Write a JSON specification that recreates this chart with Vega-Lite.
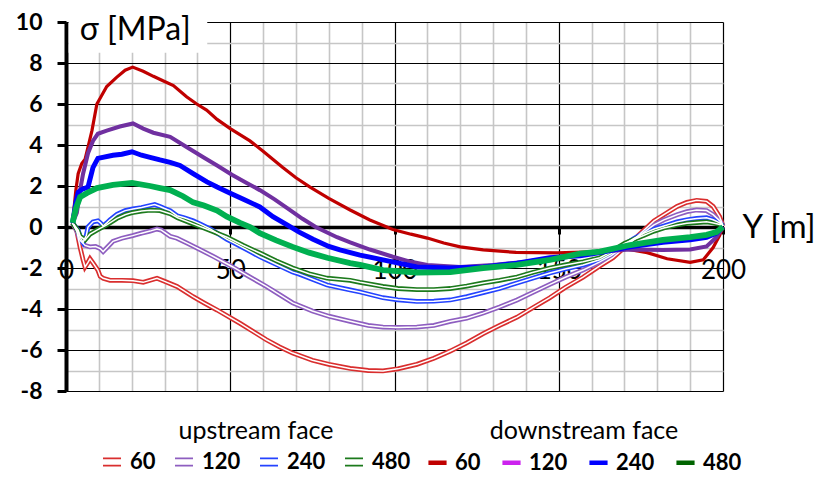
{
  "$schema": "https://vega.github.io/schema/vega-lite/v6.json",
  "width": 657,
  "height": 369,
  "autosize": "none",
  "padding": {"left": 66, "top": 22, "right": 95, "bottom": 86},
  "background": "white",
  "config": {"view": {"stroke": null}, "font": "Lato"},
  "datasets": {
    "stress": [
    {"f":"up","t":"60","x":2,"s":0.2},{"f":"up","t":"60","x":3.3,"s":-0.2},{"f":"up","t":"60","x":4.3,"s":-1.0},{"f":"up","t":"60","x":5.2,"s":-1.6},{"f":"up","t":"60","x":5.8,"s":-1.95},{"f":"up","t":"60","x":6.6,"s":-1.75},{"f":"up","t":"60","x":7.3,"s":-1.55},{"f":"up","t":"60","x":8.2,"s":-1.75},{"f":"up","t":"60","x":9.7,"s":-2.1},{"f":"up","t":"60","x":10.4,"s":-2.4},{"f":"up","t":"60","x":11.3,"s":-2.5},{"f":"up","t":"60","x":13.4,"s":-2.6},{"f":"up","t":"60","x":17,"s":-2.6},{"f":"up","t":"60","x":20.4,"s":-2.62},{"f":"up","t":"60","x":23.5,"s":-2.7},{"f":"up","t":"60","x":27.7,"s":-2.5},{"f":"up","t":"60","x":30,"s":-2.65},{"f":"up","t":"60","x":33.8,"s":-2.9},{"f":"up","t":"60","x":38.7,"s":-3.4},{"f":"up","t":"60","x":42,"s":-3.7},{"f":"up","t":"60","x":46,"s":-4.05},{"f":"up","t":"60","x":53,"s":-4.7},{"f":"up","t":"60","x":57,"s":-5.1},{"f":"up","t":"60","x":61,"s":-5.5},{"f":"up","t":"60","x":65,"s":-5.85},{"f":"up","t":"60","x":69,"s":-6.15},{"f":"up","t":"60","x":75,"s":-6.5},{"f":"up","t":"60","x":80,"s":-6.7},{"f":"up","t":"60","x":86.5,"s":-6.9},{"f":"up","t":"60","x":92,"s":-7.0},{"f":"up","t":"60","x":96.5,"s":-7.02},{"f":"up","t":"60","x":101,"s":-6.92},{"f":"up","t":"60","x":106.8,"s":-6.7},{"f":"up","t":"60","x":112,"s":-6.4},{"f":"up","t":"60","x":117,"s":-6.05},{"f":"up","t":"60","x":122,"s":-5.65},{"f":"up","t":"60","x":127,"s":-5.2},{"f":"up","t":"60","x":132,"s":-4.8},{"f":"up","t":"60","x":137.3,"s":-4.4},{"f":"up","t":"60","x":142,"s":-3.95},{"f":"up","t":"60","x":147.3,"s":-3.45},{"f":"up","t":"60","x":152,"s":-2.95},{"f":"up","t":"60","x":157.4,"s":-2.45},{"f":"up","t":"60","x":162.5,"s":-1.9},{"f":"up","t":"60","x":166.5,"s":-1.5},{"f":"up","t":"60","x":170,"s":-1.0},{"f":"up","t":"60","x":173,"s":-0.6},{"f":"up","t":"60","x":176,"s":-0.15},{"f":"up","t":"60","x":179,"s":0.3},{"f":"up","t":"60","x":182,"s":0.6},{"f":"up","t":"60","x":186,"s":1.0},{"f":"up","t":"60","x":189,"s":1.2},{"f":"up","t":"60","x":192,"s":1.3},{"f":"up","t":"60","x":195,"s":1.25},{"f":"up","t":"60","x":197,"s":1.0},{"f":"up","t":"60","x":199,"s":0.5},{"f":"up","t":"60","x":200,"s":0.05},

    {"f":"up","t":"120","x":2,"s":0.2},{"f":"up","t":"120","x":3.3,"s":-0.2},{"f":"up","t":"120","x":4.3,"s":-0.65},{"f":"up","t":"120","x":5.8,"s":-0.9},{"f":"up","t":"120","x":7.3,"s":-0.97},{"f":"up","t":"120","x":9,"s":-0.95},{"f":"up","t":"120","x":10.4,"s":-1.05},{"f":"up","t":"120","x":11.3,"s":-1.2},{"f":"up","t":"120","x":12.5,"s":-1.0},{"f":"up","t":"120","x":14.3,"s":-0.7},{"f":"up","t":"120","x":17,"s":-0.55},{"f":"up","t":"120","x":20.3,"s":-0.42},{"f":"up","t":"120","x":23,"s":-0.3},{"f":"up","t":"120","x":25.6,"s":-0.2},{"f":"up","t":"120","x":27.7,"s":-0.1},{"f":"up","t":"120","x":29,"s":-0.15},{"f":"up","t":"120","x":31.7,"s":-0.45},{"f":"up","t":"120","x":33.8,"s":-0.55},{"f":"up","t":"120","x":37,"s":-0.8},{"f":"up","t":"120","x":40.8,"s":-1.1},{"f":"up","t":"120","x":45,"s":-1.45},{"f":"up","t":"120","x":50.8,"s":-1.95},{"f":"up","t":"120","x":55,"s":-2.35},{"f":"up","t":"120","x":61,"s":-2.9},{"f":"up","t":"120","x":65,"s":-3.3},{"f":"up","t":"120","x":69,"s":-3.7},{"f":"up","t":"120","x":75,"s":-4.1},{"f":"up","t":"120","x":80,"s":-4.35},{"f":"up","t":"120","x":86.5,"s":-4.6},{"f":"up","t":"120","x":92,"s":-4.8},{"f":"up","t":"120","x":96.5,"s":-4.88},{"f":"up","t":"120","x":101,"s":-4.9},{"f":"up","t":"120","x":106.8,"s":-4.88},{"f":"up","t":"120","x":112,"s":-4.8},{"f":"up","t":"120","x":117,"s":-4.6},{"f":"up","t":"120","x":122,"s":-4.45},{"f":"up","t":"120","x":127,"s":-4.2},{"f":"up","t":"120","x":132,"s":-3.9},{"f":"up","t":"120","x":137.3,"s":-3.56},{"f":"up","t":"120","x":142,"s":-3.2},{"f":"up","t":"120","x":147.3,"s":-2.8},{"f":"up","t":"120","x":152,"s":-2.45},{"f":"up","t":"120","x":157.4,"s":-2.1},{"f":"up","t":"120","x":162.5,"s":-1.7},{"f":"up","t":"120","x":166,"s":-1.4},{"f":"up","t":"120","x":170,"s":-0.95},{"f":"up","t":"120","x":173,"s":-0.6},{"f":"up","t":"120","x":176,"s":-0.25},{"f":"up","t":"120","x":179,"s":0.1},{"f":"up","t":"120","x":182,"s":0.35},{"f":"up","t":"120","x":186,"s":0.6},{"f":"up","t":"120","x":189,"s":0.75},{"f":"up","t":"120","x":192,"s":0.83},{"f":"up","t":"120","x":195,"s":0.8},{"f":"up","t":"120","x":197,"s":0.6},{"f":"up","t":"120","x":199,"s":0.3},{"f":"up","t":"120","x":200,"s":0.05},

    {"f":"up","t":"240","x":2,"s":0.2},{"f":"up","t":"240","x":3.7,"s":-0.15},{"f":"up","t":"240","x":4.5,"s":-0.55},{"f":"up","t":"240","x":5.2,"s":-0.75},{"f":"up","t":"240","x":6.2,"s":-0.4},{"f":"up","t":"240","x":6.7,"s":0.0},{"f":"up","t":"240","x":8.2,"s":0.25},{"f":"up","t":"240","x":9.7,"s":0.3},{"f":"up","t":"240","x":10.5,"s":0.2},{"f":"up","t":"240","x":11.3,"s":0.05},{"f":"up","t":"240","x":12.4,"s":0.2},{"f":"up","t":"240","x":13.4,"s":0.35},{"f":"up","t":"240","x":15.5,"s":0.62},{"f":"up","t":"240","x":18,"s":0.8},{"f":"up","t":"240","x":20.4,"s":0.88},{"f":"up","t":"240","x":23,"s":0.95},{"f":"up","t":"240","x":25.6,"s":1.05},{"f":"up","t":"240","x":27,"s":1.1},{"f":"up","t":"240","x":28.6,"s":1.0},{"f":"up","t":"240","x":30,"s":0.9},{"f":"up","t":"240","x":31.7,"s":0.8},{"f":"up","t":"240","x":33.8,"s":0.55},{"f":"up","t":"240","x":36,"s":0.45},{"f":"up","t":"240","x":38.7,"s":0.3},{"f":"up","t":"240","x":40.8,"s":0.15},{"f":"up","t":"240","x":44,"s":-0.1},{"f":"up","t":"240","x":49,"s":-0.6},{"f":"up","t":"240","x":50.8,"s":-0.75},{"f":"up","t":"240","x":55,"s":-1.1},{"f":"up","t":"240","x":59,"s":-1.45},{"f":"up","t":"240","x":61,"s":-1.6},{"f":"up","t":"240","x":65,"s":-1.9},{"f":"up","t":"240","x":69,"s":-2.2},{"f":"up","t":"240","x":71,"s":-2.3},{"f":"up","t":"240","x":75,"s":-2.55},{"f":"up","t":"240","x":79.5,"s":-2.83},{"f":"up","t":"240","x":86.5,"s":-3.07},{"f":"up","t":"240","x":89.5,"s":-3.17},{"f":"up","t":"240","x":96.5,"s":-3.45},{"f":"up","t":"240","x":101,"s":-3.55},{"f":"up","t":"240","x":106.8,"s":-3.63},{"f":"up","t":"240","x":112,"s":-3.62},{"f":"up","t":"240","x":117,"s":-3.56},{"f":"up","t":"240","x":122,"s":-3.4},{"f":"up","t":"240","x":127,"s":-3.2},{"f":"up","t":"240","x":132,"s":-3.0},{"f":"up","t":"240","x":137.3,"s":-2.73},{"f":"up","t":"240","x":142,"s":-2.5},{"f":"up","t":"240","x":147.3,"s":-2.24},{"f":"up","t":"240","x":152,"s":-2.05},{"f":"up","t":"240","x":157.4,"s":-1.85},{"f":"up","t":"240","x":162.5,"s":-1.6},{"f":"up","t":"240","x":166,"s":-1.3},{"f":"up","t":"240","x":170,"s":-0.85},{"f":"up","t":"240","x":173,"s":-0.55},{"f":"up","t":"240","x":176,"s":-0.3},{"f":"up","t":"240","x":179,"s":-0.1},{"f":"up","t":"240","x":182,"s":0.05},{"f":"up","t":"240","x":186,"s":0.25},{"f":"up","t":"240","x":189,"s":0.35},{"f":"up","t":"240","x":192,"s":0.42},{"f":"up","t":"240","x":195,"s":0.45},{"f":"up","t":"240","x":197,"s":0.35},{"f":"up","t":"240","x":199,"s":0.2},{"f":"up","t":"240","x":200,"s":0.05},

    {"f":"up","t":"480","x":2,"s":0.2},{"f":"up","t":"480","x":3.5,"s":-0.15},{"f":"up","t":"480","x":4.3,"s":-0.45},{"f":"up","t":"480","x":5.8,"s":-0.63},{"f":"up","t":"480","x":7.3,"s":-0.35},{"f":"up","t":"480","x":9.4,"s":-0.15},{"f":"up","t":"480","x":12.4,"s":0.1},{"f":"up","t":"480","x":15.5,"s":0.42},{"f":"up","t":"480","x":18,"s":0.6},{"f":"up","t":"480","x":20.1,"s":0.7},{"f":"up","t":"480","x":23,"s":0.78},{"f":"up","t":"480","x":25.6,"s":0.82},{"f":"up","t":"480","x":28.6,"s":0.8},{"f":"up","t":"480","x":31.7,"s":0.65},{"f":"up","t":"480","x":34,"s":0.45},{"f":"up","t":"480","x":38.7,"s":0.15},{"f":"up","t":"480","x":42,"s":-0.05},{"f":"up","t":"480","x":46,"s":-0.3},{"f":"up","t":"480","x":49,"s":-0.5},{"f":"up","t":"480","x":54,"s":-0.9},{"f":"up","t":"480","x":59,"s":-1.27},{"f":"up","t":"480","x":64,"s":-1.65},{"f":"up","t":"480","x":69,"s":-2.0},{"f":"up","t":"480","x":74,"s":-2.28},{"f":"up","t":"480","x":79.5,"s":-2.5},{"f":"up","t":"480","x":86.5,"s":-2.6},{"f":"up","t":"480","x":89.5,"s":-2.7},{"f":"up","t":"480","x":96.5,"s":-2.9},{"f":"up","t":"480","x":101,"s":-3.0},{"f":"up","t":"480","x":106.8,"s":-3.05},{"f":"up","t":"480","x":112,"s":-3.05},{"f":"up","t":"480","x":117,"s":-3.0},{"f":"up","t":"480","x":122,"s":-2.88},{"f":"up","t":"480","x":127,"s":-2.73},{"f":"up","t":"480","x":132,"s":-2.6},{"f":"up","t":"480","x":137.3,"s":-2.44},{"f":"up","t":"480","x":142,"s":-2.22},{"f":"up","t":"480","x":147.3,"s":-2.0},{"f":"up","t":"480","x":152,"s":-1.85},{"f":"up","t":"480","x":157.4,"s":-1.7},{"f":"up","t":"480","x":162.5,"s":-1.5},{"f":"up","t":"480","x":166,"s":-1.2},{"f":"up","t":"480","x":170,"s":-0.8},{"f":"up","t":"480","x":173,"s":-0.6},{"f":"up","t":"480","x":176,"s":-0.4},{"f":"up","t":"480","x":179,"s":-0.2},{"f":"up","t":"480","x":182,"s":-0.05},{"f":"up","t":"480","x":186,"s":0.1},{"f":"up","t":"480","x":189,"s":0.18},{"f":"up","t":"480","x":192,"s":0.22},{"f":"up","t":"480","x":195,"s":0.25},{"f":"up","t":"480","x":197,"s":0.2},{"f":"up","t":"480","x":199,"s":0.12},{"f":"up","t":"480","x":200,"s":0.05},

    {"f":"down","t":"60","x":2,"s":0.2},{"f":"down","t":"60","x":3,"s":1.8},{"f":"down","t":"60","x":3.7,"s":2.6},{"f":"down","t":"60","x":4.8,"s":3.1},{"f":"down","t":"60","x":5.8,"s":3.3},{"f":"down","t":"60","x":6.7,"s":3.9},{"f":"down","t":"60","x":7.9,"s":4.7},{"f":"down","t":"60","x":9.4,"s":6.0},{"f":"down","t":"60","x":12.4,"s":6.85},{"f":"down","t":"60","x":15.4,"s":7.3},{"f":"down","t":"60","x":18,"s":7.65},{"f":"down","t":"60","x":20.3,"s":7.8},{"f":"down","t":"60","x":23.5,"s":7.6},{"f":"down","t":"60","x":26.6,"s":7.35},{"f":"down","t":"60","x":30,"s":7.1},{"f":"down","t":"60","x":32.7,"s":6.9},{"f":"down","t":"60","x":36.7,"s":6.35},{"f":"down","t":"60","x":39.8,"s":6.0},{"f":"down","t":"60","x":42.8,"s":5.7},{"f":"down","t":"60","x":46,"s":5.25},{"f":"down","t":"60","x":50,"s":4.8},{"f":"down","t":"60","x":56,"s":4.2},{"f":"down","t":"60","x":60,"s":3.7},{"f":"down","t":"60","x":66,"s":2.9},{"f":"down","t":"60","x":70,"s":2.4},{"f":"down","t":"60","x":74.3,"s":1.95},{"f":"down","t":"60","x":80,"s":1.4},{"f":"down","t":"60","x":86.5,"s":0.83},{"f":"down","t":"60","x":92.5,"s":0.34},{"f":"down","t":"60","x":99.5,"s":-0.12},{"f":"down","t":"60","x":105,"s":-0.35},{"f":"down","t":"60","x":110,"s":-0.54},{"f":"down","t":"60","x":115,"s":-0.78},{"f":"down","t":"60","x":120,"s":-0.97},{"f":"down","t":"60","x":127,"s":-1.12},{"f":"down","t":"60","x":137,"s":-1.24},{"f":"down","t":"60","x":149.5,"s":-1.26},{"f":"down","t":"60","x":162.5,"s":-1.2},{"f":"down","t":"60","x":169.6,"s":-1.05},{"f":"down","t":"60","x":176.9,"s":-1.25},{"f":"down","t":"60","x":183,"s":-1.55},{"f":"down","t":"60","x":190,"s":-1.72},{"f":"down","t":"60","x":194,"s":-1.6},{"f":"down","t":"60","x":197,"s":-1.0},{"f":"down","t":"60","x":199,"s":-0.4},{"f":"down","t":"60","x":200,"s":0.0},

    {"f":"down","t":"120","x":2,"s":0.2},{"f":"down","t":"120","x":3.3,"s":0.7},{"f":"down","t":"120","x":4.3,"s":1.8},{"f":"down","t":"120","x":5.2,"s":2.6},{"f":"down","t":"120","x":6.7,"s":3.6},{"f":"down","t":"120","x":8.2,"s":4.2},{"f":"down","t":"120","x":9.7,"s":4.55},{"f":"down","t":"120","x":12.4,"s":4.7},{"f":"down","t":"120","x":16.4,"s":4.9},{"f":"down","t":"120","x":20.4,"s":5.05},{"f":"down","t":"120","x":23.5,"s":4.8},{"f":"down","t":"120","x":26.6,"s":4.6},{"f":"down","t":"120","x":31.7,"s":4.4},{"f":"down","t":"120","x":36.7,"s":3.9},{"f":"down","t":"120","x":41.8,"s":3.4},{"f":"down","t":"120","x":46,"s":3.0},{"f":"down","t":"120","x":50.5,"s":2.55},{"f":"down","t":"120","x":55,"s":2.15},{"f":"down","t":"120","x":59,"s":1.8},{"f":"down","t":"120","x":63.5,"s":1.35},{"f":"down","t":"120","x":68,"s":0.85},{"f":"down","t":"120","x":72,"s":0.4},{"f":"down","t":"120","x":76,"s":0.0},{"f":"down","t":"120","x":82.5,"s":-0.5},{"f":"down","t":"120","x":86.5,"s":-0.75},{"f":"down","t":"120","x":92.5,"s":-1.1},{"f":"down","t":"120","x":99.5,"s":-1.45},{"f":"down","t":"120","x":105,"s":-1.7},{"f":"down","t":"120","x":110,"s":-1.85},{"f":"down","t":"120","x":120,"s":-1.95},{"f":"down","t":"120","x":130,"s":-1.85},{"f":"down","t":"120","x":140,"s":-1.7},{"f":"down","t":"120","x":150.4,"s":-1.46},{"f":"down","t":"120","x":162.5,"s":-1.2},{"f":"down","t":"120","x":171.7,"s":-1.1},{"f":"down","t":"120","x":181.7,"s":-1.12},{"f":"down","t":"120","x":190,"s":-1.1},{"f":"down","t":"120","x":195,"s":-0.95},{"f":"down","t":"120","x":198,"s":-0.5},{"f":"down","t":"120","x":200,"s":0.0},

    {"f":"down","t":"240","x":2,"s":0.2},{"f":"down","t":"240","x":3,"s":1.2},{"f":"down","t":"240","x":3.7,"s":1.7},{"f":"down","t":"240","x":5,"s":1.85},{"f":"down","t":"240","x":6.7,"s":1.95},{"f":"down","t":"240","x":8.2,"s":2.9},{"f":"down","t":"240","x":9.7,"s":3.35},{"f":"down","t":"240","x":14.3,"s":3.5},{"f":"down","t":"240","x":17,"s":3.55},{"f":"down","t":"240","x":20.1,"s":3.67},{"f":"down","t":"240","x":23,"s":3.5},{"f":"down","t":"240","x":25.6,"s":3.4},{"f":"down","t":"240","x":28.6,"s":3.27},{"f":"down","t":"240","x":31.7,"s":3.15},{"f":"down","t":"240","x":34.7,"s":3.0},{"f":"down","t":"240","x":38.7,"s":2.6},{"f":"down","t":"240","x":42.9,"s":2.2},{"f":"down","t":"240","x":46,"s":1.95},{"f":"down","t":"240","x":50,"s":1.65},{"f":"down","t":"240","x":54,"s":1.35},{"f":"down","t":"240","x":59,"s":0.98},{"f":"down","t":"240","x":63,"s":0.5},{"f":"down","t":"240","x":67.3,"s":0.1},{"f":"down","t":"240","x":71,"s":-0.25},{"f":"down","t":"240","x":75.2,"s":-0.6},{"f":"down","t":"240","x":80,"s":-0.95},{"f":"down","t":"240","x":83.4,"s":-1.12},{"f":"down","t":"240","x":89.5,"s":-1.37},{"f":"down","t":"240","x":96.5,"s":-1.6},{"f":"down","t":"240","x":106.8,"s":-1.95},{"f":"down","t":"240","x":116.9,"s":-2.0},{"f":"down","t":"240","x":127,"s":-1.95},{"f":"down","t":"240","x":137.3,"s":-1.76},{"f":"down","t":"240","x":147.3,"s":-1.5},{"f":"down","t":"240","x":156.5,"s":-1.4},{"f":"down","t":"240","x":162.5,"s":-1.25},{"f":"down","t":"240","x":171.7,"s":-0.97},{"f":"down","t":"240","x":181.7,"s":-0.75},{"f":"down","t":"240","x":190,"s":-0.63},{"f":"down","t":"240","x":195,"s":-0.5},{"f":"down","t":"240","x":198,"s":-0.3},{"f":"down","t":"240","x":200,"s":0.0},

    {"f":"down","t":"480","x":2,"s":0.2},{"f":"down","t":"480","x":3,"s":0.9},{"f":"down","t":"480","x":4.3,"s":1.46},{"f":"down","t":"480","x":6.4,"s":1.66},{"f":"down","t":"480","x":9.4,"s":1.9},{"f":"down","t":"480","x":14.3,"s":2.05},{"f":"down","t":"480","x":20.1,"s":2.15},{"f":"down","t":"480","x":25.6,"s":2.0},{"f":"down","t":"480","x":28.6,"s":1.9},{"f":"down","t":"480","x":31.7,"s":1.8},{"f":"down","t":"480","x":35.6,"s":1.5},{"f":"down","t":"480","x":38.7,"s":1.2},{"f":"down","t":"480","x":42,"s":1.05},{"f":"down","t":"480","x":46,"s":0.8},{"f":"down","t":"480","x":49,"s":0.5},{"f":"down","t":"480","x":53,"s":0.2},{"f":"down","t":"480","x":56,"s":0.0},{"f":"down","t":"480","x":59,"s":-0.3},{"f":"down","t":"480","x":64,"s":-0.65},{"f":"down","t":"480","x":69,"s":-0.97},{"f":"down","t":"480","x":74,"s":-1.25},{"f":"down","t":"480","x":79.5,"s":-1.5},{"f":"down","t":"480","x":86.5,"s":-1.76},{"f":"down","t":"480","x":89.5,"s":-1.85},{"f":"down","t":"480","x":96.5,"s":-2.1},{"f":"down","t":"480","x":106.8,"s":-2.22},{"f":"down","t":"480","x":117,"s":-2.2},{"f":"down","t":"480","x":127,"s":-2.0},{"f":"down","t":"480","x":137.3,"s":-1.85},{"f":"down","t":"480","x":147.3,"s":-1.6},{"f":"down","t":"480","x":156.5,"s":-1.3},{"f":"down","t":"480","x":162.5,"s":-1.2},{"f":"down","t":"480","x":171.7,"s":-0.88},{"f":"down","t":"480","x":181.7,"s":-0.63},{"f":"down","t":"480","x":190,"s":-0.49},{"f":"down","t":"480","x":195,"s":-0.38},{"f":"down","t":"480","x":198,"s":-0.25},{"f":"down","t":"480","x":200,"s":0.0}
    ],
    "caption": [{"label": "σ [MPa]"}]
  },
  "layer": [
    {
      "data": {"name": "stress"},
      "encoding": {
        "x": {
          "field": "x", "type": "quantitative",
          "scale": {"domain": [0, 200], "nice": false},
          "axis": {
            "values": [0,10,20,30,40,50,60,70,80,90,100,110,120,130,140,150,160,170,180,190,200],
            "offset": -164,
            "grid": true,
            "gridColor": {"condition": {"test": "datum.value % 50 === 0", "value": "#000000"}, "value": "#c6c6c6"},
            "gridWidth": {"condition": {"test": "datum.value % 50 === 0", "value": 1.2}, "value": 1.6},
            "domain": true, "domainColor": "#000000", "domainWidth": 3.5,
            "ticks": true, "tickSize": 7, "tickWidth": 3, "tickColor": "#000000",
            "tickOpacity": {"condition": {"test": "datum.value % 50 === 0 && datum.value > 0", "value": 1}, "value": 0},
            "labelExpr": "datum.value % 50 === 0 ? '' + datum.value : ''",
            "labelFont": "Lato", "labelFontSize": 26, "labelColor": "#000000",
            "labelPadding": 23, "labelFlush": false, "labelOverlap": false, "labelBound": false,
            "title": "Y [m]", "titleX": 676, "titleY": 0, "titleAlign": "left", "titleBaseline": "middle",
            "titleAngle": 0, "titleFont": "Lato", "titleFontSize": 33, "titleFontWeight": "normal", "titleColor": "#000000"
          }
        },
        "y": {
          "field": "s", "type": "quantitative",
          "scale": {"domain": [-8, 10], "nice": false},
          "axis": {
            "values": [-8,-7,-6,-5,-4,-3,-2,-1,0,1,2,3,4,5,6,7,8,9,10],
            "grid": true,
            "gridColor": {"condition": {"test": "datum.value % 2 === 0", "value": "#000000"}, "value": "#c6c6c6"},
            "gridWidth": {"condition": {"test": "datum.value % 2 === 0", "value": 1.2}, "value": 1.6},
            "domain": true, "domainColor": "#000000", "domainWidth": 4,
            "ticks": true, "tickSize": 9, "tickWidth": 3, "tickColor": "#000000",
            "tickOpacity": {"condition": {"test": "datum.value % 2 === 0", "value": 1}, "value": 0},
            "labelExpr": "datum.value % 2 === 0 ? '' + datum.value : ''",
            "labelFont": "Lato", "labelFontSize": 23, "labelFontWeight": "bold", "labelColor": "#000000",
            "labelPadding": 15, "labelOverlap": false, "labelFlush": false,
            "title": null
          }
        }
      },
      "layer": [
        {
          "transform": [{"filter": "datum.f === 'up'"}],
          "mark": {"type": "line", "strokeWidth": 4.8},
          "encoding": {
            "stroke": {
              "field": "t", "type": "nominal",
              "scale": {"domain": ["60", "120", "240", "480"], "range": ["#D92E2E", "#8E5EC0", "#2443FF", "#1C7A1C"]},
              "legend": {
                "title": "upstream face", "orient": "none", "legendX": 35, "legendY": 397,
                "direction": "horizontal", "titleAnchor": "middle", "titlePadding": 7, "titleLimit": 400,
                "titleFont": "Lato", "titleFontSize": 25, "titleFontWeight": "normal", "titleColor": "#000000",
                "labelFont": "Lato", "labelFontSize": 22, "labelFontWeight": "bold", "labelColor": "#000000",
                "symbolType": "M-1,-0.4L1,-0.4M-1,0.4L1,0.4", "symbolSize": 324, "symbolStrokeWidth": 1.8,
                "columnPadding": 15, "labelOffset": 7
              }
            }
          }
        },
        {
          "transform": [{"filter": "datum.f === 'up'"}],
          "mark": {"type": "line", "strokeWidth": 1.5, "color": "#ffffff"},
          "encoding": {"detail": {"field": "t", "type": "nominal"}}
        },
        {
          "transform": [{"filter": "datum.f === 'none'"}],
          "mark": {"type": "line"},
          "encoding": {
            "stroke": {
              "field": "t", "type": "nominal",
              "scale": {"domain": ["60", "120", "240", "480"], "range": ["#C00000", "#CC22EE", "#0000FF", "#006400"]},
              "legend": {
                "title": "downstream face", "orient": "none", "legendX": 360, "legendY": 397,
                "direction": "horizontal", "titleAnchor": "middle", "titlePadding": 7, "titleLimit": 400,
                "titleFont": "Lato", "titleFontSize": 25, "titleFontWeight": "normal", "titleColor": "#000000",
                "labelFont": "Lato", "labelFontSize": 22, "labelFontWeight": "bold", "labelColor": "#000000",
                "symbolType": "stroke", "symbolSize": 330, "symbolStrokeWidth": 4.5,
                "columnPadding": 12, "labelOffset": 6
              }
            }
          }
        },
        {
          "transform": [{"filter": "datum.f === 'down'"}],
          "mark": {"type": "line"},
          "encoding": {
            "stroke": {
              "field": "t", "type": "nominal",
              "scale": {"domain": ["60", "120", "240", "480"], "range": ["#C00000", "#7030A0", "#0000FF", "#00B050"]},
              "legend": null
            },
            "strokeWidth": {
              "field": "t", "type": "nominal",
              "scale": {"domain": ["60", "120", "240", "480"], "range": [3.2, 5.8, 3.6, 4.2]},
              "legend": null
            }
          }
        }
      ],
      "resolve": {"scale": {"stroke": "independent", "strokeWidth": "independent"}}
    },
    {
      "data": {"name": "caption"},
      "encoding": {
        "x": {
          "datum": 0.8, "type": "quantitative",
          "scale": {"domain": [0, 200], "nice": false},
          "axis": {
            "values": [0,10,20,30,40,50,60,70,80,90,100,110,120,130,140,150,160,170,180,190,200],
            "offset": -164,
            "grid": true,
            "gridColor": {"condition": {"test": "datum.value % 50 === 0", "value": "#000000"}, "value": "#c6c6c6"},
            "gridWidth": {"condition": {"test": "datum.value % 50 === 0", "value": 1.2}, "value": 1.6},
            "domain": true, "domainColor": "#000000", "domainWidth": 3.5,
            "ticks": true, "tickSize": 7, "tickWidth": 3, "tickColor": "#000000",
            "tickOpacity": {"condition": {"test": "datum.value % 50 === 0 && datum.value > 0", "value": 1}, "value": 0},
            "labelExpr": "datum.value % 50 === 0 ? '' + datum.value : ''",
            "labelFont": "Lato", "labelFontSize": 26, "labelColor": "#000000",
            "labelPadding": 23, "labelFlush": false, "labelOverlap": false, "labelBound": false,
            "title": "Y [m]", "titleX": 676, "titleY": 0, "titleAlign": "left", "titleBaseline": "middle",
            "titleAngle": 0, "titleFont": "Lato", "titleFontSize": 33, "titleFontWeight": "normal", "titleColor": "#000000"
          }
        },
        "y": {
          "datum": 8.5, "type": "quantitative",
          "scale": {"domain": [-8, 10], "nice": false},
          "axis": {
            "values": [-8,-7,-6,-5,-4,-3,-2,-1,0,1,2,3,4,5,6,7,8,9,10],
            "grid": true,
            "gridColor": {"condition": {"test": "datum.value % 2 === 0", "value": "#000000"}, "value": "#c6c6c6"},
            "gridWidth": {"condition": {"test": "datum.value % 2 === 0", "value": 1.2}, "value": 1.6},
            "domain": true, "domainColor": "#000000", "domainWidth": 4,
            "ticks": true, "tickSize": 9, "tickWidth": 3, "tickColor": "#000000",
            "tickOpacity": {"condition": {"test": "datum.value % 2 === 0", "value": 1}, "value": 0},
            "labelExpr": "datum.value % 2 === 0 ? '' + datum.value : ''",
            "labelFont": "Lato", "labelFontSize": 23, "labelFontWeight": "bold", "labelColor": "#000000",
            "labelPadding": 15, "labelOverlap": false, "labelFlush": false,
            "title": null
          }
        }
      },
      "layer": [
        {
          "mark": {"type": "rect", "color": "#ffffff"},
          "encoding": {"x2": {"datum": 43}, "y2": {"datum": 10.9}}
        },
        {
          "mark": {"type": "text", "align": "left", "baseline": "middle", "font": "Lato", "fontSize": 32, "color": "#000000", "dx": 11, "dy": -23},
          "encoding": {"text": {"field": "label", "type": "nominal"}}
        }
      ]
    }
  ],
  "resolve": {"scale": {"stroke": "independent", "strokeWidth": "independent"}}
}
